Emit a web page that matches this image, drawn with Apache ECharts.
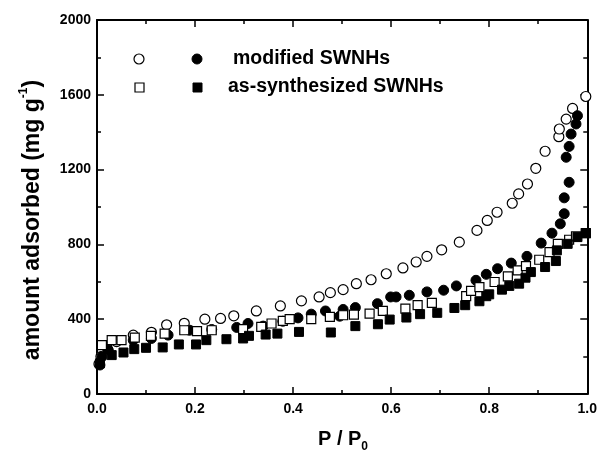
<!DOCTYPE html>
<html>
<head>
<meta charset="utf-8">
<script src="https://cdn.jsdelivr.net/npm/echarts@6/dist/echarts.min.js"></script>
<style>html,body{margin:0;padding:0;background:#fff}#c{width:600px;height:452px}</style>
</head>
<body>
<div id="c"></div>
<script>
const xTicks = [0, 0.2, 0.4, 0.6, 0.8, 1.0];
const yTicks = [0, 400, 800, 1200, 1600, 2000];
const legendNames = ['modified SWNHs', 'as-synthesized SWNHs'];

const modifiedOpen = [[0.004,160],[0.008,200],[0.02,250],[0.04,280],[0.074,315],[0.111,330],[0.142,370],[0.178,378],[0.22,400],[0.252,404],[0.279,418],[0.325,444],[0.374,471],[0.417,498],[0.453,519],[0.476,542],[0.502,558],[0.529,590],[0.559,611],[0.59,643],[0.624,674],[0.651,706],[0.673,736],[0.703,771],[0.739,812],[0.775,875],[0.796,928],[0.816,972],[0.847,1020],[0.86,1070],[0.878,1123],[0.895,1207],[0.914,1298],[0.942,1376],[0.943,1417],[0.957,1470],[0.97,1527],[0.997,1591]];
const modifiedFilled = [[0.006,155],[0.01,199],[0.023,235],[0.074,288],[0.111,297],[0.145,315],[0.189,341],[0.234,345],[0.285,356],[0.308,377],[0.339,363],[0.379,389],[0.41,407],[0.437,427],[0.466,444],[0.495,416],[0.502,452],[0.527,462],[0.572,483],[0.599,519],[0.61,519],[0.637,528],[0.673,546],[0.707,555],[0.733,578],[0.773,608],[0.794,640],[0.817,670],[0.845,700],[0.877,736],[0.906,807],[0.928,860],[0.945,910],[0.953,964],[0.953,1049],[0.963,1132],[0.957,1266],[0.963,1324],[0.967,1390],[0.977,1444],[0.98,1488]];
const synthOpen = [[0.01,261],[0.03,288],[0.05,288],[0.077,302],[0.11,311],[0.138,323],[0.178,341],[0.204,336],[0.234,341],[0.298,347],[0.335,359],[0.356,377],[0.379,391],[0.393,400],[0.437,400],[0.475,412],[0.502,421],[0.524,425],[0.556,430],[0.583,444],[0.629,457],[0.654,475],[0.683,487],[0.753,523],[0.763,551],[0.78,572],[0.811,599],[0.838,629],[0.858,661],[0.875,684],[0.902,718],[0.923,759],[0.94,803],[0.963,825],[0.977,843],[0.997,860]];
const synthFilled = [[0.006,164],[0.03,208],[0.054,222],[0.076,240],[0.1,247],[0.134,249],[0.167,265],[0.202,265],[0.223,288],[0.264,293],[0.298,297],[0.31,311],[0.344,318],[0.368,323],[0.412,332],[0.477,329],[0.527,363],[0.573,373],[0.597,398],[0.631,409],[0.659,427],[0.694,434],[0.729,460],[0.751,475],[0.78,496],[0.794,523],[0.8,533],[0.826,558],[0.841,578],[0.861,590],[0.874,622],[0.885,652],[0.914,679],[0.936,711],[0.938,768],[0.96,803],[0.98,839],[0.997,860]];

const FONT = '"Liberation Sans", Arial, sans-serif';
const chart = echarts.init(document.getElementById('c'));
const openStyle = {color:'#fff', borderColor:'#000', borderWidth:1.2, opacity:1};
const fillStyle = {color:'#000', borderColor:'#000', borderWidth:1, opacity:1};
const baseX = {type:'value', min:xTicks[0], max:xTicks[xTicks.length-1], interval:0.2,
  axisLine:{onZero:false, lineStyle:{color:'#000', width:2}},
  axisTick:{inside:true, length:7, lineStyle:{color:'#000', width:1.5}},
  minorTick:{show:true, splitNumber:2, length:4, lineStyle:{color:'#000', width:1.5}},
  splitLine:{show:false}};
const baseY = {type:'value', min:yTicks[0], max:yTicks[yTicks.length-1], interval:400,
  axisLine:{onZero:false, lineStyle:{color:'#000', width:2}},
  axisTick:{inside:true, length:7, lineStyle:{color:'#000', width:1.5}},
  minorTick:{show:true, splitNumber:2, length:4, lineStyle:{color:'#000', width:1.5}},
  splitLine:{show:false}};
function mk(data, symbol, style){
  return {type:'scatter', data, symbol, symbolSize: symbol==='circle'?10:9, itemStyle:style, xAxisIndex:0, yAxisIndex:0, silent:true};
}
chart.setOption({
  animation:false,
  grid:{left:97, right:12, top:20, bottom:58},
  xAxis:[
    Object.assign({}, baseX, {position:'bottom', axisLabel:{color:'#000', fontFamily:FONT, fontWeight:'bold', fontSize:14, margin:8,
      formatter:v=>v.toFixed(1)}}),
    Object.assign({}, baseX, {position:'top', axisLabel:{show:false}})
  ],
  yAxis:[
    Object.assign({}, baseY, {position:'left', axisLabel:{color:'#000', fontFamily:FONT, fontWeight:'bold', fontSize:14, margin:6,
      formatter:v=>String(v)}}),
    Object.assign({}, baseY, {position:'right', axisLabel:{show:false}})
  ],
  series:[
    mk(modifiedOpen,'circle',openStyle),
    mk(modifiedFilled,'circle',fillStyle),
    mk(synthOpen,'rect',openStyle),
    mk(synthFilled,'rect',fillStyle)
  ],
  graphic:[
    {type:'circle', shape:{cx:139, cy:59, r:5}, style:{fill:'#fff', stroke:'#000', lineWidth:1.2}},
    {type:'circle', shape:{cx:197, cy:59, r:5}, style:{fill:'#000', stroke:'#000'}},
    {type:'rect', shape:{x:135, y:83, width:9, height:9}, style:{fill:'#fff', stroke:'#000', lineWidth:1.2}},
    {type:'rect', shape:{x:193, y:83, width:9, height:9}, style:{fill:'#000', stroke:'#000'}},
    {type:'text', x:233, y:59, style:{text:legendNames[0], font:'bold 19.5px '+FONT, fill:'#000', verticalAlign:'middle'}},
    {type:'text', x:228, y:87, style:{text:legendNames[1], font:'bold 19.5px '+FONT, fill:'#000', verticalAlign:'middle'}},
    {type:'text', x:343, y:437, style:{text:'{a|P / P}{s|0}', align:'center', verticalAlign:'middle',
      rich:{a:{font:'bold 20px '+FONT, fill:'#000', lineHeight:24, verticalAlign:'bottom'},
            s:{font:'bold 12px '+FONT, fill:'#000', lineHeight:24, verticalAlign:'bottom', padding:[0,0,-4,0]}}}},
    {type:'text', x:31, y:220, rotation:Math.PI/2, style:{text:'{a|amount adsorbed (mg g}{s|-1}{a|)}', align:'center', verticalAlign:'middle',
      rich:{a:{font:'bold 23px '+FONT, fill:'#000', lineHeight:26, verticalAlign:'bottom'},
            s:{font:'bold 12px '+FONT, fill:'#000', lineHeight:26, verticalAlign:'top'}}}}
  ]
});
</script>
</body>
</html>
